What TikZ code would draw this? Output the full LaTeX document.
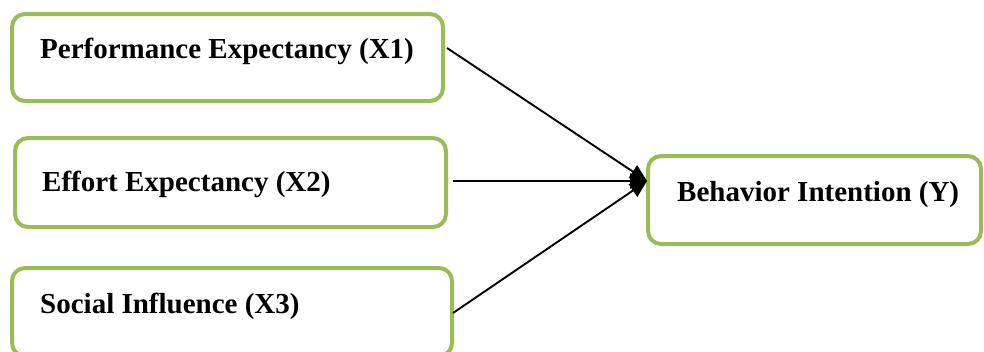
\documentclass[tikz,border=0pt]{standalone}
\usepackage{fontspec}
\setmainfont{Liberation Serif}
\usetikzlibrary{arrows.meta}
\definecolor{boxgreen}{RGB}{155,187,89}
\begin{document}
\begin{tikzpicture}[x=1pt,y=-1pt,
  box/.style={draw=boxgreen,line width=4pt,rounded corners=13pt,inner sep=0pt,outer sep=0pt,fill=white},
  lbl/.style={anchor=base west,inner sep=0pt,font=\fontsize{29}{34}\selectfont\bfseries},
  conn/.style={line width=1.9pt,-{Triangle[length=17pt,width=15pt]}}]
\useasboundingbox[fill=white] (0,0) rectangle (984,351);
\clip (0,0) rectangle (984,351);
\node[box,minimum width=431pt,minimum height=87pt] (b1) at (227.5,57.5) {};
\node[box,minimum width=431pt,minimum height=89pt] (b2) at (230.5,182.5) {};
\node[box,minimum width=440pt,minimum height=88pt] (b3) at (232,312) {};
\node[box,minimum width=333pt,minimum height=88pt] (by) at (814.5,200) {};
\node[lbl] (t1) at (40,58) {Performance Expectancy (X1)};
\node[lbl] (t2) at (42,191) {Effort Expectancy (X2)};
\node[lbl] (t3) at (40,313) {Social Influence (X3)};
\node[lbl] (ty) at (677,201) {Behavior Intention (Y)};
\coordinate (s1) at (447,48);
\coordinate (s2) at (453,181);
\coordinate (s3) at (453,313);
\coordinate (tip) at (647,181);
\draw[conn] (s1) -- (tip);
\draw[conn] (s2) -- (tip);
\draw[conn] (s3) -- (tip);
\end{tikzpicture}
\end{document}
